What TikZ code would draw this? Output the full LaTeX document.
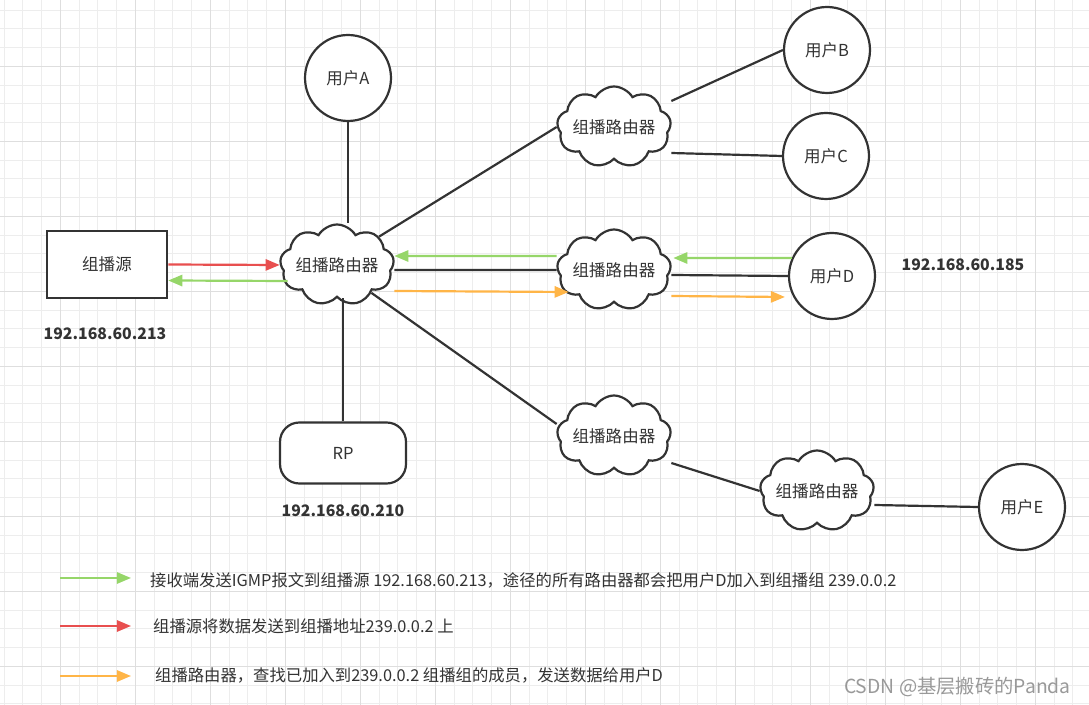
\documentclass[tikz,border=0pt]{standalone}
\usepackage{fontspec}
\setmainfont{Noto Sans CJK SC}
\usetikzlibrary{shapes.symbols,arrows.meta,calc}

\begin{document}
\begin{tikzpicture}[x=0.02cm,y=-0.02cm,
  font=\fontsize{9.4}{11}\selectfont,
  every node/.style={text=col_txt},
  grid_minor/.style={draw=col_grid_a,line width=0.6pt},
  grid_major/.style={draw=col_grid_b,line width=0.6pt},
  link/.style={draw=col_line,line width=1.25pt},
  flow/.style={line width=1.25pt,-{Triangle[length=8pt,width=6.4pt]}},
  router/.style={cloud,cloud puffs=9,cloud puff arc=120,cloud ignores aspect,
    draw=col_line,line width=1.25pt,fill=white,
    minimum width=2.2cm,minimum height=1.62cm,inner sep=0pt},
  user/.style={circle,draw=col_line,line width=1.25pt,fill=white,
    minimum size=1.72cm,inner sep=0pt},
  srcbox/.style={rectangle,draw=col_line,line width=1.45pt,fill=white,
    minimum width=2.4cm,minimum height=1.34cm},
  rpbox/.style={rectangle,rounded corners=11pt,draw=col_line,line width=1.25pt,
    fill=white,minimum width=2.52cm,minimum height=1.22cm},
  iplabel/.style={font=\fontsize{9}{11}\selectfont\bfseries},
  legtext/.style={anchor=west,font=\fontsize{9.3}{11}\selectfont}
]
%
\definecolor{col_txt}{rgb}{0.2,0.2,0.2}
\definecolor{col_line}{rgb}{0.2,0.2,0.2}
\definecolor{col_grid_a}{rgb}{0.93,0.93,0.93}
\definecolor{col_grid_b}{rgb}{0.87,0.87,0.87}
\definecolor{col_green}{rgb}{0.59,0.84,0.41}
\definecolor{col_red}{rgb}{0.91,0.31,0.31}
\definecolor{col_orange}{rgb}{1.0,0.71,0.28}
\definecolor{col_mark}{rgb}{0.6,0.6,0.6}
%
%
\useasboundingbox[fill=white] (0,0) rectangle (1089,705);
\foreach \gx in {0,...,57} {\draw[grid_minor] ({4.05+18.75*\gx},0) -- ({4.05+18.75*\gx},705);}
\foreach \gy in {0,...,37} {\draw[grid_minor] (0,{10.05+18.75*\gy}) -- (1089,{10.05+18.75*\gy});}
\foreach \gx in {0,...,13} {\draw[grid_major] ({60.3+75*\gx},0) -- ({60.3+75*\gx},705);}
\foreach \gy in {0,...,8} {\draw[grid_major] (0,{66.3+75*\gy}) -- (1089,{66.3+75*\gy});}
%
%
\node[srcbox] (src) at (107,264.5) {组播源};
\node[router] (mainr) at (337,265) {组播路由器};
\node[router] (topr) at (614,127) {组播路由器};
\node[router] (midr) at (614,270) {组播路由器};
\node[router] (lowr) at (614,436) {组播路由器};
\node[router] (farr) at (817,491) {组播路由器};
\node[rpbox] (rp) at (343,453) {RP};
%
\node[user] (userA) at (348,78) {用户A};
\node[user] (userB) at (827,50) {用户B};
\node[user] (userC) at (826,156) {用户C};
\node[user] (userD) at (832,276) {用户D};
\node[user] (userE) at (1022,507) {用户E};
%
\node[iplabel] (ip_src) at (105,334) {192.168.60.213};
\node[iplabel] (ip_rp) at (343,511) {192.168.60.210};
\node[iplabel] (ip_d) at (963,265) {192.168.60.185};
%
%
\draw[link] (userA.south) -- (userA.south |- mainr.north);
\draw[link] (rp.north) -- (rp.north |- mainr.south);
\draw[link] (mainr.34) -- (topr.west);
\draw[link] (mainr.-39) -- ($(lowr.west)+(0,-12)$);
\draw[link] ($(mainr.east)+(0,5)$) -- (midr.west);
\draw[link] ($(topr.east)+(0,-26)$) -- (userB.west);
\draw[link] ($(topr.east)+(0,26)$) -- (userC.west);
\draw[link] ($(midr.east)+(0,5)$) -- (userD.west);
\draw[link] ($(lowr.east)+(0,27)$) -- (farr.west);
\draw[link] ($(farr.east)+(0,14)$) -- (userE.west);
%
\draw[flow,draw=col_red] (src.east) -- (mainr.west);
\draw[flow,draw=col_green] ($(mainr.west)+(8,16)$) -- ($(src.east)+(0,16)$);
\draw[flow,draw=col_green] ($(midr.west)+(0,-14)$) -- ($(mainr.east)+(0,-9)$);
\draw[flow,draw=col_orange] ($(mainr.east)+(0,26)$) -- ($(midr.west)+(12,22)$);
\draw[flow,draw=col_green] ($(userD.west)+(4,-18)$) -- ($(midr.east)+(2,-12)$);
\draw[flow,draw=col_orange] ($(midr.east)+(0,26)$) -- ($(userD.west)+(-3,21)$);
%
%
\coordinate (lg_g_s) at (60,578);
\coordinate (lg_g_e) at (131,578);
\coordinate (lg_r_s) at (60,626);
\coordinate (lg_r_e) at (131,626);
\coordinate (lg_o_s) at (60,676);
\coordinate (lg_o_e) at (131,676);
\draw[flow,draw=col_green] (lg_g_s) -- (lg_g_e);
\draw[flow,draw=col_red] (lg_r_s) -- (lg_r_e);
\draw[flow,draw=col_orange] (lg_o_s) -- (lg_o_e);
\node[legtext] (lg_g_t) at (144,580) {接收端发送IGMP报文到组播源 192.168.60.213，途径的所有路由器都会把用户D加入到组播组 239.0.0.2};
\node[legtext] (lg_r_t) at (147,626) {组播源将数据发送到组播地址239.0.0.2 上};
\node[legtext] (lg_o_t) at (149,675) {组播路由器，查找已加入到239.0.0.2 组播组的成员，发送数据给用户D};
%
\node[anchor=east,text=col_mark,font=\fontsize{11}{13}\selectfont] (mark) at (1077,687) {CSDN @基层搬砖的Panda};
%
\end{tikzpicture}
\end{document}
